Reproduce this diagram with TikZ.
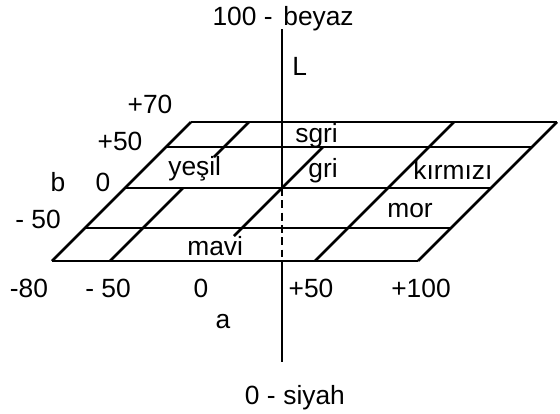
\documentclass[tikz,border=0pt]{standalone}
\usepackage{fontspec}
\setmainfont{Liberation Sans}
\usetikzlibrary{positioning}

\begin{document}
\begin{tikzpicture}[
  x=0.02cm, y=-0.02cm,
  every node/.style={font=\fontsize{15}{17}\selectfont, inner sep=0pt},
  grid/.style={line width=1.5pt},
  axis/.style={line width=1.6pt},
  lbl/.style={anchor=base west},
  num/.style={anchor=base},
]
\useasboundingbox (0,0) rectangle (560,413);

% === Plane corners ===
\coordinate (bl) at (52,261);
\coordinate (br) at (418,261);
\coordinate (tl) at (191,122);
\coordinate (tr) at (557,122);

% === Rows (b) ===
\draw[grid] (bl) -- (br);
\draw[grid] (85,228) -- (451,228);
\draw[grid] (125,188) -- (491,188);
\draw[grid] (166,147) -- (532,147);
\draw[grid] (tl) -- (tr);

% === Columns (a) ===
\draw[grid] (bl) -- (tl);
\draw[grid] (br) -- (tr);
\draw[grid] (110,261) -- (183,188);
\draw[grid] (214,157) -- (249,122);
\draw[grid] (234,236) -- (282,188) -- (323,147);
\draw[grid] (315,261) -- (454,122);

% === L axis ===
\coordinate (Ltop) at (282,29);
\coordinate (origin) at (282,188);
\coordinate (Lfoot) at (282,261);
\coordinate (Lbot) at (282,362);
\draw[axis] (Ltop) -- (origin);
\draw[axis, dash pattern=on 4.5pt off 2.5pt] (origin) -- (Lfoot);
\draw[axis] (Lfoot) -- (Lbot);

% === Axis labels ===
\node[anchor=base east] (white) at (273,25) {100 -};
\node[lbl] (beyaz) at (283,25) {beyaz};
\node[lbl] (L) at (292,75) {L};
\node[anchor=base east] (black) at (276,404) {0 -};
\node[lbl] (siyah) at (283,404) {siyah};
\node[num] (b) at (58,191) {b};
\node[num] (a) at (223,328) {a};

% === b values ===
\node[num] (bp70) at (150,113) {+70};
\node[num] (bp50) at (120,150) {+50};
\node[num] (b0) at (103,191) {0};
\node[num] (bm50) at (38,228) {- 50};

% === a values ===
\node[num] (am80) at (29,297) {-80};
\node[num] (am50) at (108,297) {- 50};
\node[num] (a0) at (201,297) {0};
\node[num] (ap50) at (311,297) {+50};
\node[num] (ap100) at (421,297) {+100};

% === Colour names ===
\node[lbl] (sari) at (295,142) {sgri};
\node[lbl] (gri) at (308,177) {gri};
\node[lbl] (yesil) at (168,175) {yeşil};
\node[lbl] (kirmizi) at (413,179) {kırmızı};
\node[lbl] (mor) at (387,217) {mor};
\node[lbl] (mavi) at (187,255) {mavi};

\end{tikzpicture}
\end{document}
